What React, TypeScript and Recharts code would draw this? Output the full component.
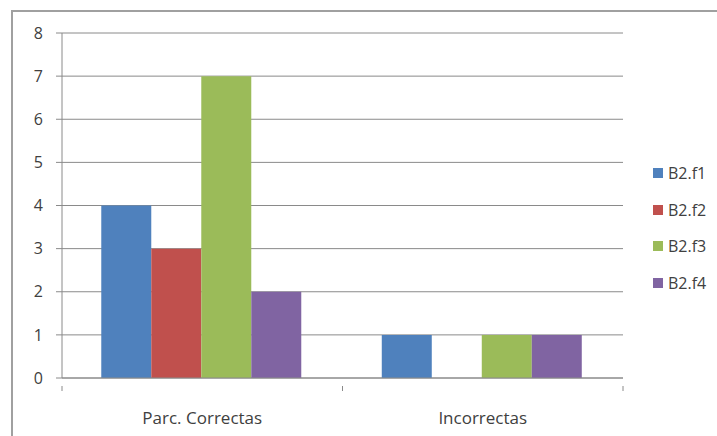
import React from "react";
import { BarChart, Bar, XAxis, YAxis, CartesianGrid } from "recharts";

const categories = ["Parc. Correctas", "Incorrectas"];
const b2f1 = [4, 1];
const b2f2 = [3, 0];
const b2f3 = [7, 1];
const b2f4 = [2, 1];
const yTicks = [0, 1, 2, 3, 4, 5, 6, 7, 8];

const series = [
  { key: "B2.f1", values: b2f1, color: "#4F81BD" },
  { key: "B2.f2", values: b2f2, color: "#C0504D" },
  { key: "B2.f3", values: b2f3, color: "#9BBB59" },
  { key: "B2.f4", values: b2f4, color: "#8064A2" },
];

const data = categories.map((name, i) => {
  const row: Record<string, string | number> = { name };
  series.forEach((s) => (row[s.key] = s.values[i]));
  return row;
});

const GRAY = "#8a8a8a";
const TEXT = "#404040";
const FONT = "'Open Sans', sans-serif";

function CategoryTick(props: any) {
  const { x, y, payload, index } = props;
  const half = payload && payload.offset ? payload.offset : 140.25;
  const last = index === categories.length - 1;
  return (
    <g>
      <line x1={x - half} x2={x - half} y1={y} y2={y + 5} stroke={GRAY} />
      {last && <line x1={x + half} x2={x + half} y1={y} y2={y + 5} stroke={GRAY} />}
      <text
        x={x}
        y={y + 38}
        textAnchor="middle"
        fill={TEXT}
        fontSize={17}
        fontFamily={FONT}
      >
        {payload.value}
      </text>
    </g>
  );
}

export default function App() {
  return (
    <div style={{ position: "fixed", left: 0, top: 0, width: 717, height: 436, background: "#fff", overflow: "hidden" }}>
      <div
        style={{
          position: "absolute",
          left: 11,
          top: 10,
          width: 720,
          height: 440,
          borderLeft: "2px solid #a0a0a0",
          borderTop: "2px solid #a0a0a0",
        }}
      />
      <BarChart
        width={717}
        height={436}
        data={data}
        margin={{ top: 33, right: 94, bottom: 18, left: 0 }}
        barCategoryGap="14%"
        barGap={0}
        style={{ position: "absolute", left: 0, top: 0 }}
      >
        <CartesianGrid vertical={false} stroke={GRAY} strokeWidth={1} />
        <XAxis
          dataKey="name"
          height={40}
          axisLine={{ stroke: GRAY }}
          tickLine={false}
          tick={<CategoryTick />}
          interval={0}
        />
        <YAxis
          width={62}
          domain={[0, 8]}
          ticks={yTicks}
          interval={0}
          axisLine={{ stroke: GRAY }}
          tickLine={{ stroke: GRAY }}
          tickSize={6}
          tickMargin={13}
          tick={{ fill: TEXT, fontSize: 16, fontFamily: FONT }}
        />
        {series.map((s) => (
          <Bar key={s.key} dataKey={s.key} fill={s.color} isAnimationActive={false} />
        ))}
      </BarChart>
      <div style={{ position: "absolute", left: 653, top: 155, fontFamily: FONT, fontSize: 16, color: TEXT }}>
        {series.map((s) => (
          <div key={s.key} style={{ display: "flex", alignItems: "center", height: 36.5 }}>
            <span style={{ display: "inline-block", width: 10, height: 10, background: s.color, marginRight: 5 }} />
            <span>{s.key}</span>
          </div>
        ))}
      </div>
    </div>
  );
}
